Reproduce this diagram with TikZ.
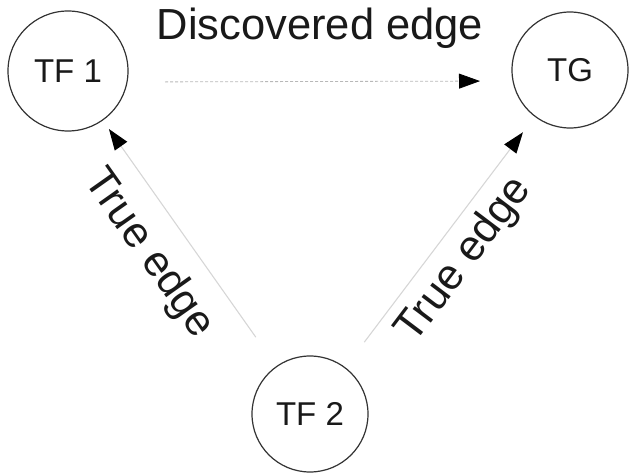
\documentclass[tikz,border=0pt]{standalone}
\usepackage{fontspec}
\setmainfont{Liberation Sans}
\usetikzlibrary{arrows.meta}
\begin{document}
\begin{tikzpicture}[x=1pt, y=-1pt,
  state/.style={circle, draw=black!80, line width=1.2pt, inner sep=0pt, outer sep=0pt,
    text=black!90, font=\fontsize{33}{33}\selectfont},
  tip/.style={-{Triangle[length=21pt, width=15pt, color=black]}},
  trueedge/.style={draw=black!16, line width=1.1pt, tip},
  foundedge/.style={draw=black!28, line width=0.8pt, dash pattern=on 3pt off 2pt, tip},
  edgelabel/.style={inner sep=0pt, text=black!90, font=\fontsize{43}{43}\selectfont}
]
\useasboundingbox (0,0) rectangle (629,473);

% genes
\node[state, minimum size=120pt] (tf1) at (68,71) {TF 1};
\node[state, minimum size=116pt] (tg)  at (570,70) {TG};
\node[state, minimum size=116pt] (tf2) at (310,414) {TF 2};

% known regulations
\draw[trueedge, shorten <=36pt, shorten >=11pt] (tf2) --
  node[edgelabel, sloped, below=19pt, pos=0.55] {True edge} (tf1);
\draw[trueedge, shorten <=32pt, shorten >=20pt] (tf2) --
  node[edgelabel, sloped, below=10pt, pos=0.5] {True edge} (tg);

% inferred regulation
\draw[foundedge, shorten <=37pt, shorten >=32pt] ([yshift=-11pt]tf1.east) --
  node[edgelabel, anchor=base, yshift=42pt, font=\fontsize{43.5}{43.5}\selectfont] {Discovered edge}
  ([yshift=-11pt]tg.west);
\end{tikzpicture}
\end{document}
